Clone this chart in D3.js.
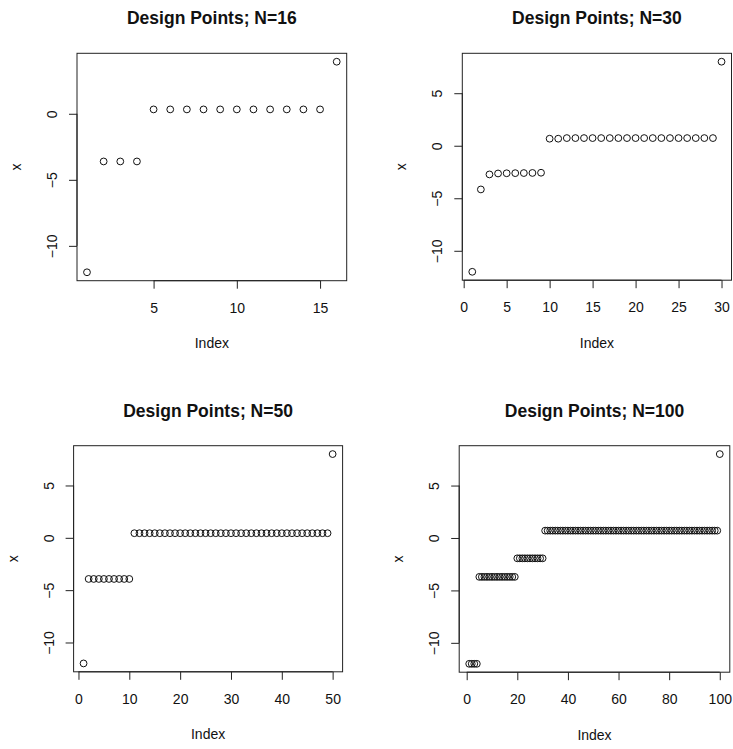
<!DOCTYPE html>
<html><head><meta charset="utf-8">
<script src="https://cdn.jsdelivr.net/npm/d3@7"></script>
<style>body{margin:0;background:#fff}svg{display:block}</style>
</head><body>
<script>
// ---- data ----
const titles = ["Design Points; N=16", "Design Points; N=30", "Design Points; N=50", "Design Points; N=100"];
const xLabel = "Index";
const yLabel = "x";

const valuesN16 = [-12, -3.61, -3.61, -3.61, 0.33, 0.33, 0.33, 0.33, 0.33, 0.33, 0.33, 0.33, 0.33, 0.33, 0.33, 3.94];

const valuesN30 = [-12, -4.16, -2.73, -2.64, -2.62, -2.61, -2.6, -2.59, -2.57, 0.67,
  0.67, 0.73, 0.73, 0.73, 0.73, 0.73, 0.73, 0.73, 0.73, 0.73,
  0.73, 0.73, 0.73, 0.73, 0.73, 0.73, 0.73, 0.73, 0.73, 8];

const valuesN50 = [-12, -3.93, -3.93, -3.93, -3.93, -3.93, -3.93, -3.93, -3.93, -3.93,
  0.44, 0.44, 0.44, 0.44, 0.44, 0.44, 0.44, 0.44, 0.44, 0.44,
  0.44, 0.44, 0.44, 0.44, 0.44, 0.44, 0.44, 0.44, 0.44, 0.44,
  0.44, 0.44, 0.44, 0.44, 0.44, 0.44, 0.44, 0.44, 0.44, 0.44,
  0.44, 0.44, 0.44, 0.44, 0.44, 0.44, 0.44, 0.44, 0.44, 8];

const valuesN100 = [-12, -12, -12, -12, -3.71, -3.71, -3.71, -3.71, -3.71, -3.71,
  -3.71, -3.71, -3.71, -3.71, -3.71, -3.71, -3.71, -3.71, -3.71, -1.94,
  -1.94, -1.94, -1.94, -1.94, -1.94, -1.94, -1.94, -1.94, -1.94, -1.94,
  0.70, 0.70, 0.70, 0.70, 0.70, 0.70, 0.70, 0.70, 0.70, 0.70,
  0.70, 0.70, 0.70, 0.70, 0.70, 0.70, 0.70, 0.70, 0.70, 0.70,
  0.70, 0.70, 0.70, 0.70, 0.70, 0.70, 0.70, 0.70, 0.70, 0.70,
  0.70, 0.70, 0.70, 0.70, 0.70, 0.70, 0.70, 0.70, 0.70, 0.70,
  0.70, 0.70, 0.70, 0.70, 0.70, 0.70, 0.70, 0.70, 0.70, 0.70,
  0.70, 0.70, 0.70, 0.70, 0.70, 0.70, 0.70, 0.70, 0.70, 0.70,
  0.70, 0.70, 0.70, 0.70, 0.70, 0.70, 0.70, 0.70, 0.70, 8];

const xTicksN16 = [5, 10, 15];
const yTicksN16 = [-10, -5, 0];
const xTicksN30 = [0, 5, 10, 15, 20, 25, 30];
const yTicksN30 = [-10, -5, 0, 5];
const xTicksN50 = [0, 10, 20, 30, 40, 50];
const yTicksN50 = [-10, -5, 0, 5];
const xTicksN100 = [0, 20, 40, 60, 80, 100];
const yTicksN100 = [-10, -5, 0, 5];

// ---- layout ----
const W = 733, H = 749;
const panels = [
  {title: titles[0], values: valuesN16, xt: xTicksN16, yt: yTicksN16, box: {l: 77, t: 53.3, r: 346.7, b: 280.7}},
  {title: titles[1], values: valuesN30, xt: xTicksN30, yt: yTicksN30, box: {l: 462.3, t: 53.3, r: 731.5, b: 280.2}},
  {title: titles[2], values: valuesN50, xt: xTicksN50, yt: yTicksN50, box: {l: 73.6, t: 445.7, r: 342.6, b: 671.8}},
  {title: titles[3], values: valuesN100, xt: xTicksN100, yt: yTicksN100, box: {l: 459.2, t: 445.7, r: 729.8, b: 672.2}}
];

const FONT = "'Liberation Sans', Arial, Helvetica, sans-serif";
const svg = d3.select("body").append("svg").attr("width", W).attr("height", H)
  .style("font-family", FONT);

function rRange(lo, hi) { const e = (hi - lo) * 0.04; return [lo - e, hi + e]; }

panels.forEach(p => {
  const n = p.values.length;
  const bx = p.box;
  const x = d3.scaleLinear().domain(rRange(1, n)).range([bx.l, bx.r]);
  const y = d3.scaleLinear().domain(rRange(d3.min(p.values), d3.max(p.values))).range([bx.b, bx.t]);
  const g = svg.append("g");

  // box
  g.append("rect").attr("x", bx.l).attr("y", bx.t)
    .attr("width", bx.r - bx.l).attr("height", bx.b - bx.t)
    .attr("fill", "none").attr("stroke", "#222").attr("stroke-width", 1);

  // x axis
  const xa = g.append("g").attr("transform", `translate(0,${bx.b})`)
    .call(d3.axisBottom(x).tickValues(p.xt).tickSize(8).tickPadding(13).tickFormat(d3.format("d")));
  xa.select(".domain").attr("d", `M${x(p.xt[0])},0H${x(p.xt[p.xt.length - 1])}`).attr("stroke", "#222");
  xa.selectAll(".tick line").attr("stroke", "#222");
  xa.selectAll(".tick text").attr("font-size", 14).attr("font-family", FONT).attr("fill", "#111")
    .attr("y", 27).attr("dy", "0.35em");

  // y axis
  const ya = g.append("g").attr("transform", `translate(${bx.l},0)`)
    .call(d3.axisLeft(y).tickValues(p.yt).tickSize(8).tickFormat(d3.format("d")));
  ya.select(".domain").attr("d", `M0,${y(p.yt[0])}V${y(p.yt[p.yt.length - 1])}`).attr("stroke", "#222");
  ya.selectAll(".tick line").attr("stroke", "#222");
  ya.selectAll(".tick text").attr("font-size", 14).attr("font-family", FONT).attr("fill", "#111")
    .attr("x", null).attr("dy", "0.35em").attr("text-anchor", "middle")
    .attr("transform", "translate(-25,0) rotate(-90)");

  // points
  g.append("g").selectAll("circle").data(p.values).join("circle")
    .attr("cx", (d, i) => x(i + 1)).attr("cy", d => y(d)).attr("r", 3.4)
    .attr("fill", "none").attr("stroke", "#111").attr("stroke-width", 1);

  // title
  g.append("text").attr("x", (bx.l + bx.r) / 2).attr("y", bx.t - 35).attr("dy", "0.35em")
    .attr("text-anchor", "middle").attr("font-weight", "bold").attr("font-size", 17.5)
    .attr("fill", "#111").text(p.title);

  // axis labels
  g.append("text").attr("x", (bx.l + bx.r) / 2).attr("y", bx.b + 62.5).attr("dy", "0.35em")
    .attr("text-anchor", "middle").attr("font-size", 14).attr("fill", "#111").text(xLabel);
  g.append("text").attr("transform", `translate(${bx.l - 61},${(bx.t + bx.b) / 2}) rotate(-90)`)
    .attr("dy", "0.35em").attr("text-anchor", "middle").attr("font-size", 14).attr("fill", "#111").text(yLabel);
});
</script>
</body></html>
